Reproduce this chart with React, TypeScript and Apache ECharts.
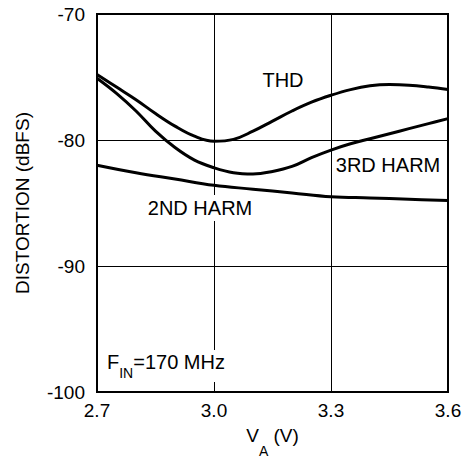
import React, { useEffect, useRef } from "react";
import * as echarts from "echarts";

const xTicks = [2.7, 3.0, 3.3, 3.6];
const yTicks = [-100, -90, -80, -70];

const thdV = [2.7, 2.75, 2.8, 2.85, 2.9, 2.95, 3.0, 3.05, 3.1, 3.15, 3.2, 3.25, 3.3, 3.35, 3.4, 3.45, 3.5, 3.55, 3.6];
const thdDb = [-74.8, -75.8, -76.8, -77.9, -78.9, -79.7, -80.1, -79.95, -79.3, -78.5, -77.7, -77.0, -76.45, -76.0, -75.7, -75.6, -75.65, -75.8, -76.0];

const h3V = [2.7, 2.75, 2.8, 2.85, 2.9, 2.95, 3.0, 3.05, 3.1, 3.15, 3.2, 3.25, 3.3, 3.35, 3.4, 3.45, 3.5, 3.55, 3.6];
const h3Db = [-75.1, -76.3, -77.7, -79.3, -80.6, -81.6, -82.2, -82.6, -82.7, -82.5, -82.1, -81.4, -80.8, -80.3, -79.9, -79.5, -79.1, -78.7, -78.3];

const h2V = [2.7, 2.8, 2.9, 3.0, 3.1, 3.2, 3.3, 3.4, 3.5, 3.6];
const h2Db = [-82.0, -82.6, -83.1, -83.6, -83.9, -84.2, -84.5, -84.6, -84.7, -84.8];

const FONT = "'Liberation Sans', Arial, sans-serif";

const pair = (xs: number[], ys: number[]) => xs.map((x, i) => [x, ys[i]]);

export default function App() {
  const ref = useRef<HTMLDivElement>(null);
  useEffect(() => {
    if (!ref.current) return;
    const chart = echarts.init(ref.current, null, { renderer: "svg" });
    const lineSeries = (name: string, data: number[][]) => ({
      name,
      type: "line",
      data,
      smooth: 0.4,
      showSymbol: false,
      symbol: "none",
      lineStyle: { color: "#000", width: 3 },
      z: 5,
    });
    chart.setOption({
      animation: false,
      backgroundColor: "#fff",
      grid: {
        left: 97,
        right: 24,
        top: 14,
        bottom: 71,
        show: true,
        borderColor: "#000",
        borderWidth: 2,
        containLabel: false,
      },
      xAxis: {
        type: "value",
        min: xTicks[0],
        max: xTicks[xTicks.length - 1],
        interval: 0.3,
        axisLine: { show: false },
        axisTick: { show: false },
        splitLine: { show: true, lineStyle: { color: "#000", width: 1 } },
        axisLabel: {
          color: "#000",
          fontSize: 19,
          fontFamily: FONT,
          margin: 9,
          formatter: (v: number) => v.toFixed(1),
        },
        name: "{v|V}{s|A}{v| (V)}",
        nameLocation: "middle",
        nameGap: 34,
        nameTextStyle: {
          rich: {
            v: { fontSize: 19, fontFamily: FONT, color: "#000", lineHeight: 32, verticalAlign: "top" },
            s: { fontSize: 14, fontFamily: FONT, color: "#000", lineHeight: 32, verticalAlign: "bottom" },
          },
        },
      },
      yAxis: {
        type: "value",
        min: yTicks[0],
        max: yTicks[yTicks.length - 1],
        interval: 10,
        axisLine: { show: false },
        axisTick: { show: false },
        splitLine: { show: true, lineStyle: { color: "#000", width: 1 } },
        axisLabel: { color: "#000", fontSize: 19, fontFamily: FONT, margin: 12 },
        name: "DISTORTION (dBFS)",
        nameLocation: "middle",
        nameGap: 65,
        nameTextStyle: { color: "#000", fontSize: 19, fontFamily: FONT },
      },
      series: [
        lineSeries("THD", pair(thdV, thdDb)),
        lineSeries("3RD HARM", pair(h3V, h3Db)),
        lineSeries("2ND HARM", pair(h2V, h2Db)),
      ],
      graphic: [
        {
          type: "text",
          x: 283,
          y: 80,
          z: 10,
          style: { text: "THD", font: `20px ${FONT}`, fill: "#000", align: "center", verticalAlign: "middle" },
        },
        {
          type: "text",
          x: 388,
          y: 165,
          z: 10,
          style: { text: "3RD HARM", font: `20px ${FONT}`, fill: "#000", align: "center", verticalAlign: "middle" },
        },
        {
          type: "text",
          x: 200,
          y: 208,
          z: 10,
          style: {
            text: "2ND HARM",
            font: `20px ${FONT}`,
            fill: "#000",
            align: "center",
            verticalAlign: "middle",
            backgroundColor: "#fff",
            padding: [3, 2, 3, 2],
          },
        },
        {
          type: "text",
          x: 106,
          y: 366,
          z: 10,
          style: {
            text: "{a|F}{b|IN}{a|=170 MHz}",
            align: "left",
            verticalAlign: "middle",
            backgroundColor: "#fff",
            padding: [2, 1, 2, 1],
            rich: {
              a: { font: `20px ${FONT}`, fill: "#000", lineHeight: 28, verticalAlign: "top" },
              b: { font: `14px ${FONT}`, fill: "#000", lineHeight: 28, verticalAlign: "bottom" },
            },
          },
        },
      ],
    });
    return () => chart.dispose();
  }, []);
  return (
    <div
      ref={ref}
      style={{ position: "fixed", left: 0, top: 0, width: 472, height: 463, background: "#fff" }}
    />
  );
}
